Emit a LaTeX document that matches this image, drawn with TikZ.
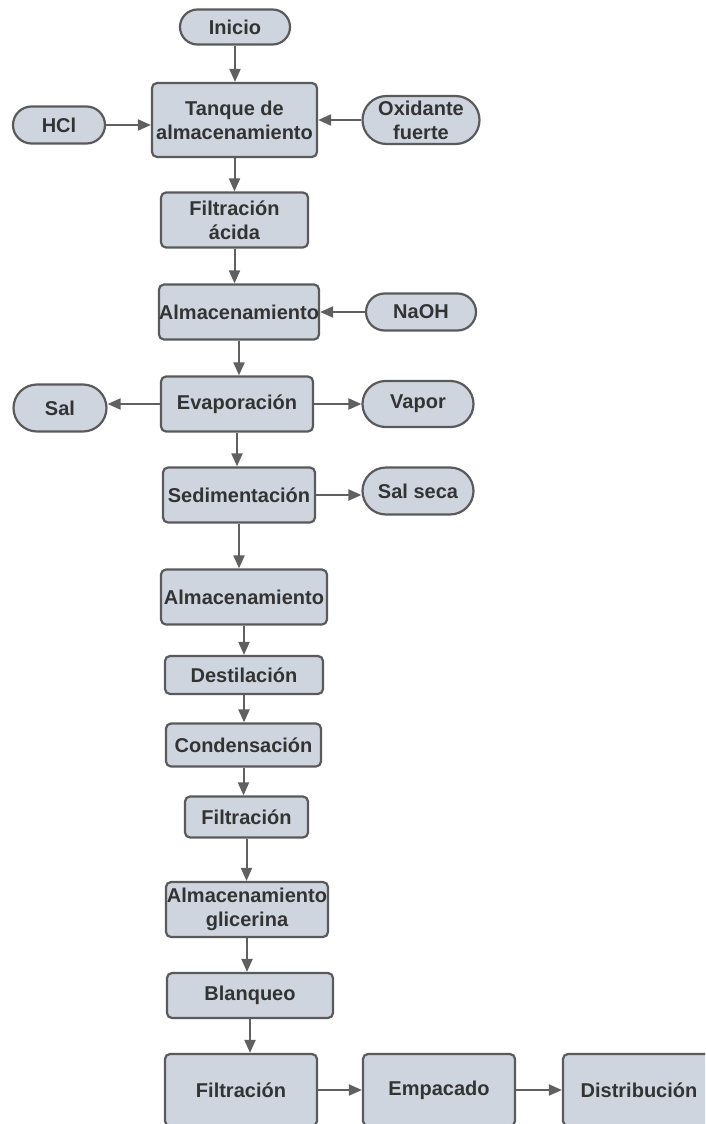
\documentclass[tikz,border=0pt]{standalone}
\usepackage{fontspec}
\setmainfont{Liberation Sans}
\usepackage{tikz}
\usetikzlibrary{arrows.meta, positioning, shapes.misc}

\definecolor{boxfill}{HTML}{CFD5DE}
\definecolor{boxline}{HTML}{5A5A5A}
\definecolor{arrowline}{HTML}{606060}
\definecolor{labeltext}{HTML}{333333}

\begin{document}
\begin{tikzpicture}[
    x=1pt, y=-1pt,
    font=\fontsize{20}{24}\selectfont\bfseries,
    proc/.style={rectangle, draw=boxline, fill=boxfill, line width=2.2pt, rounded corners=5pt, text=labeltext, align=center, inner sep=0pt},
    term/.style={rounded rectangle, draw=boxline, fill=boxfill, line width=2.2pt, text=labeltext, align=center, inner sep=0pt},
    flow/.style={-{Triangle[length=13pt, width=11pt]}, line width=2pt, draw=arrowline}
]
    \clip (0,0) rectangle (705,1124);

    % Inputs and first tank
    \node[term, minimum width=110, minimum height=35] (inicio) at (235,27) {Inicio};
    \node[proc, minimum width=165, minimum height=74] (tanque) at (234.5,120) {Tanque de\\almacenamiento};
    \node[term, minimum width=92, minimum height=37] (hcl) at (59,125) {HCl};
    \node[term, minimum width=117, minimum height=48] (oxid) at (421,120) {Oxidante\\fuerte};
    \node[proc, minimum width=147, minimum height=55] (filtacida) at (234.5,220) {Filtración\\ácida};

    % Neutralisation and evaporation
    \node[proc, minimum width=156, minimum height=55] (alm1) at (239,312) {Almacenamiento};
    \node[term, minimum width=110, minimum height=37] (naoh) at (421,312) {NaOH};
    \node[proc, minimum width=152, minimum height=55] (evap) at (237,404) {Evaporación};
    \node[term, minimum width=93, minimum height=47] (sal) at (60,408) {Sal};
    \node[term, minimum width=111, minimum height=46] (vapor) at (418,404) {Vapor};
    \node[proc, minimum width=152, minimum height=55] (sedim) at (239,495) {Sedimentación};
    \node[term, minimum width=111, minimum height=47] (salseca) at (418,491) {Sal seca};

    % Purification
    \node[proc, minimum width=166, minimum height=55] (alm2) at (244,597) {Almacenamiento};
    \node[proc, minimum width=158, minimum height=38] (destil) at (244,675) {Destilación};
    \node[proc, minimum width=155, minimum height=43] (conden) at (243.5,745) {Condensación};
    \node[proc, minimum width=123, minimum height=41] (filtra) at (246.5,817) {Filtración};
    \node[proc, minimum width=162, minimum height=55] (almglic) at (247,909.5) {Almacenamiento\\glicerina};
    \node[proc, minimum width=166, minimum height=45] (blanq) at (250,995.5) {Blanqueo};

    % Last row
    \node[proc, minimum width=152, minimum height=72] (filtrb) at (241,1090) {Filtración};
    \node[proc, minimum width=152, minimum height=72] (empaca) at (439,1090) {Empacado};
    \node[proc, minimum width=152, minimum height=72] (distri) at (639,1090) {Distribución};

    % Flow
    \draw[flow] (inicio.south) -- (inicio.south |- tanque.north);
    \draw[flow] (hcl.east) -- (hcl.east -| tanque.west);
    \draw[flow] (oxid.west) -- (oxid.west -| tanque.east);
    \draw[flow] (tanque.south) -- (tanque.south |- filtacida.north);
    \draw[flow] (filtacida.south) -- (filtacida.south |- alm1.north);
    \draw[flow] (naoh.west) -- (naoh.west -| alm1.east);
    \draw[flow] (alm1.south) -- (alm1.south |- evap.north);
    \draw[flow] (evap.west) -- (evap.west -| sal.east);
    \draw[flow] (evap.east) -- (evap.east -| vapor.west);
    \draw[flow] (evap.south) -- (evap.south |- sedim.north);
    \draw[flow] (sedim.east) -- (sedim.east -| salseca.west);
    \draw[flow] (sedim.south) -- (sedim.south |- alm2.north);
    \draw[flow] (alm2.south) -- (alm2.south |- destil.north);
    \draw[flow] (destil.south) -- (destil.south |- conden.north);
    \draw[flow] (conden.south) -- (conden.south |- filtra.north);
    \draw[flow] (filtra.south) -- (filtra.south |- almglic.north);
    \draw[flow] (almglic.south) -- (almglic.south |- blanq.north);
    \draw[flow] (blanq.south) -- (blanq.south |- filtrb.north);
    \draw[flow] (filtrb.east) -- (filtrb.east -| empaca.west);
    \draw[flow] (empaca.east) -- (empaca.east -| distri.west);
\end{tikzpicture}
\end{document}
